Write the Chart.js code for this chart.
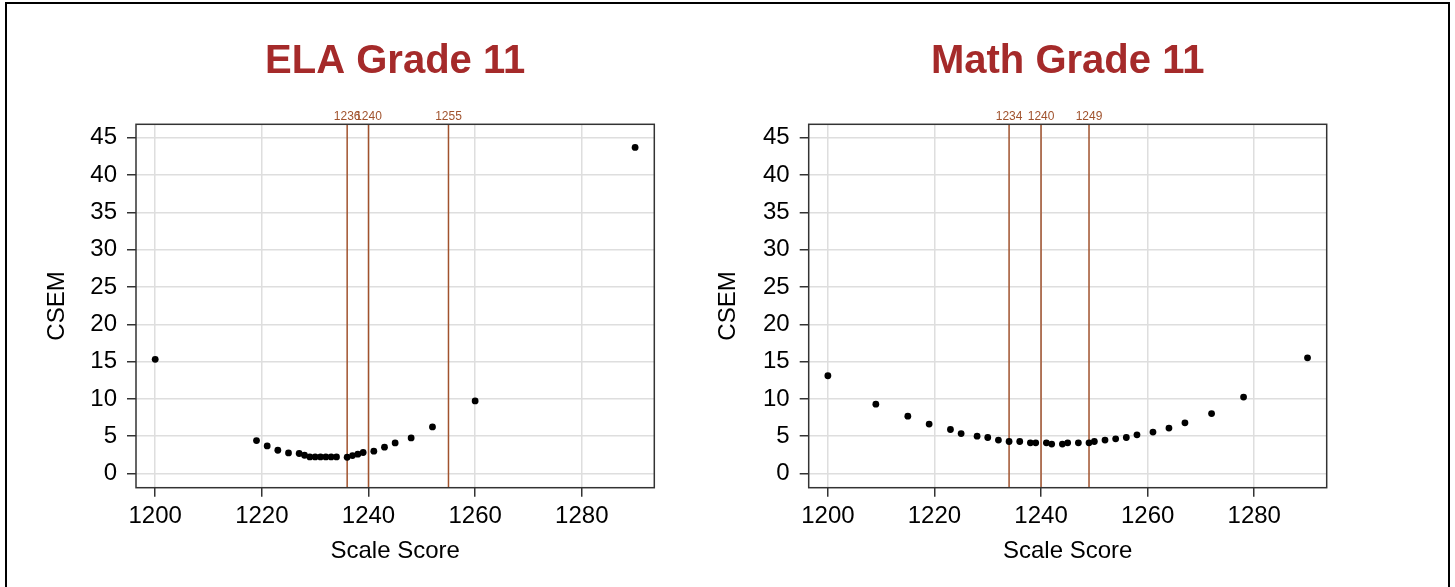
<!DOCTYPE html>
<html>
<head>
<meta charset="utf-8">
<title>CSEM Grade 11</title>
<script src="https://cdn.jsdelivr.net/npm/chart.js@4.4.1/dist/chart.umd.min.js"></script>
<style>
  body { margin: 0; background: #fff; }
  #wrap { position: relative; width: 1455px; height: 587px; overflow: hidden; background: #fff; }
  #frame { position: absolute; left: 5px; top: 2px; width: 1445px; height: 620px; border: 2px solid #000; box-sizing: border-box; pointer-events: none; }
  canvas { position: absolute; top: 0; }
  #elaChart { left: 0; }
  #mathChart { left: 680px; }
</style>
</head>
<body>
<div id="wrap">
  <canvas id="elaChart" width="680" height="587"></canvas>
  <canvas id="mathChart" width="775" height="587"></canvas>
  <div id="frame"></div>
</div>
<script>
// ELA scale scores and their CSEM
const elaScores = [1200, 1219, 1221, 1223, 1225, 1227, 1228, 1229, 1230, 1231, 1232, 1233, 1234,
  1236, 1237, 1238, 1239, 1241, 1243, 1245, 1248, 1252, 1260, 1290];
const elaCsem = [15.3, 4.42, 3.70, 3.12, 2.76, 2.68, 2.45, 2.23, 2.23, 2.23, 2.23, 2.23, 2.23,
  2.18, 2.41, 2.59, 2.82, 2.99, 3.53, 4.10, 4.77, 6.25, 9.73, 43.7];
const elaCuts = [1236, 1240, 1255];

// Math scale scores and their CSEM
const mathScores = [1200, 1209, 1215, 1219, 1223, 1225, 1228, 1230, 1232, 1234, 1236, 1238, 1239,
  1241, 1242, 1244, 1245, 1247, 1249, 1250, 1252, 1254, 1256, 1258, 1261, 1264, 1267, 1272, 1278, 1290];
const mathCsem = [13.1, 9.3, 7.69, 6.62, 5.90, 5.36, 5.01, 4.83, 4.48, 4.29, 4.29, 4.12, 4.12,
  4.12, 3.94, 3.94, 4.12, 4.12, 4.12, 4.29, 4.48, 4.65, 4.83, 5.19, 5.55, 6.09, 6.80, 8.04, 10.24, 15.5];
const mathCuts = [1234, 1240, 1249];

const xTicks = [1200, 1220, 1240, 1260, 1280];
const yTicks = [0, 5, 10, 15, 20, 25, 30, 35, 40, 45];

const FONT = '"Liberation Sans", Arial, sans-serif';
const CUT_COLOR = '#a0522d';

// cut score lines with their labels above the plot, plus the box round the plot
const cutLines = {
  id: 'cutLines',
  beforeDatasetsDraw(chart, args, opts) {
    const { ctx, chartArea, scales } = chart;
    ctx.save();
    ctx.strokeStyle = CUT_COLOR;
    ctx.lineWidth = 1.5;
    ctx.fillStyle = CUT_COLOR;
    ctx.font = '12px ' + FONT;
    ctx.textAlign = 'center';
    ctx.textBaseline = 'middle';
    opts.cuts.forEach(c => {
      const x = scales.x.getPixelForValue(c);
      ctx.beginPath();
      ctx.moveTo(x, chartArea.top);
      ctx.lineTo(x, chartArea.bottom);
      ctx.stroke();
      ctx.fillText(String(c), x, chartArea.top - 8);
    });
    ctx.strokeStyle = '#333';
    ctx.lineWidth = 1.5;
    ctx.strokeRect(chartArea.left, chartArea.top, chartArea.right - chartArea.left, chartArea.bottom - chartArea.top);
    ctx.restore();
  }
};

function makeChart(id, title, scores, csem, cuts, padLeft, padRight, csemPad) {
  const ctx = document.getElementById(id).getContext('2d');
  return new Chart(ctx, {
    type: 'scatter',
    data: {
      datasets: [{
        data: scores.map((s, i) => ({ x: s, y: csem[i] })),
        backgroundColor: '#000',
        borderWidth: 0,
        pointRadius: 3.4
      }]
    },
    plugins: [cutLines],
    options: {
      responsive: false,
      animation: false,
      devicePixelRatio: 1,
      layout: { padding: { left: padLeft, right: padRight, top: 0, bottom: 0 } },
      plugins: {
        legend: { display: false },
        tooltip: { enabled: false },
        cutLines: { cuts: cuts },
        title: {
          display: true,
          text: title,
          fullSize: false,
          color: '#a52a2a',
          font: { family: FONT, size: 40, weight: 'bold' },
          padding: { top: 38, bottom: 38.3 }
        }
      },
      scales: {
        x: {
          type: 'linear',
          min: 1196.4,
          max: 1293.6,
          afterBuildTicks: s => { s.ticks = xTicks.map(v => ({ value: v })); },
          afterFit: s => { s.height = 99.3; },
          border: { display: false },
          grid: { color: '#dedede', lineWidth: 1.5, tickLength: 9, tickColor: '#333', tickWidth: 1.5 },
          ticks: {
            color: '#000', padding: 5, maxRotation: 0, autoSkip: false,
            font: { family: FONT, size: 24 },
            callback: v => String(v)
          },
          title: {
            display: true, text: 'Scale Score', color: '#000',
            font: { family: FONT, size: 24 },
            padding: { top: 0, bottom: 21.6 }
          }
        },
        y: {
          min: -1.9,
          max: 46.8,
          afterBuildTicks: s => { s.ticks = yTicks.map(v => ({ value: v })); },
          afterFit: s => { s.width = 100; },
          border: { display: false },
          grid: { color: '#dedede', lineWidth: 1.5, tickLength: 9, tickColor: '#333', tickWidth: 1.5 },
          ticks: {
            color: '#000', padding: 10,
            font: { family: FONT, size: 24 },
            callback: v => String(v)
          },
          title: {
            display: true, text: 'CSEM', color: '#000',
            font: { family: FONT, size: 24 },
            padding: { top: csemPad, bottom: 0 }
          }
        }
      }
    }
  });
}

makeChart('elaChart', 'ELA Grade 11', elaScores, elaCsem, elaCuts, 36, 25.7, 6.6);
makeChart('mathChart', 'Math Grade 11', mathScores, mathCsem, mathCuts, 28.7, 128.3, 4.9);
</script>
</body>
</html>
